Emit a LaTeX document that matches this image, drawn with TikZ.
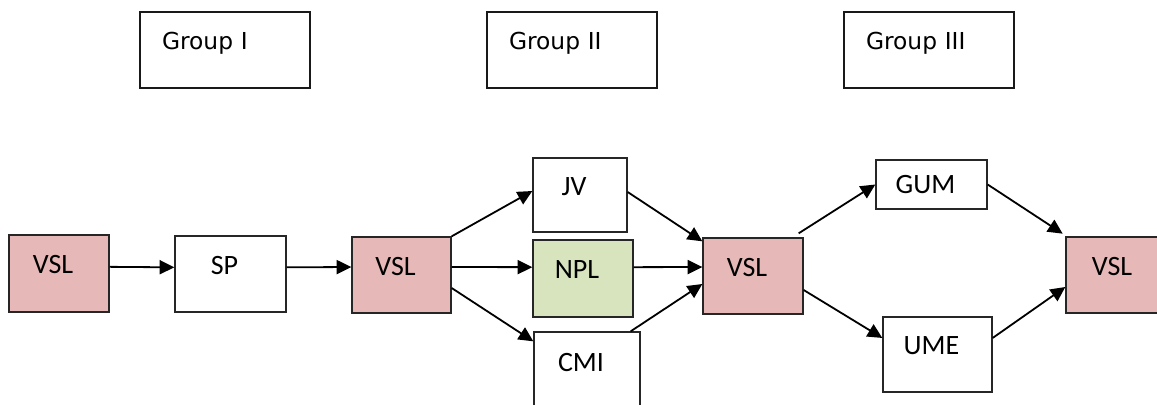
\documentclass[tikz,border=0pt]{standalone}
\usepackage{fontspec}
\setmainfont{Carlito}
\newfontfamily\grpfont{DejaVu Sans}
\usetikzlibrary{arrows.meta}
\definecolor{vslpink}{HTML}{E6B9B8}
\definecolor{nplgreen}{HTML}{D7E4BD}

\begin{document}
\begin{tikzpicture}[x=0.75pt,y=-0.75pt,
    box/.style={draw=black!85,line width=1pt,rectangle,inner sep=0pt,
      text height=13.5pt,text depth=13.5pt,font=\fontsize{21}{25}\selectfont,
      execute at end node={\hspace*{9pt}}},
    vslbox/.style={box,fill=vslpink},
    grpbox/.style={draw=black!90,line width=1pt,rectangle,inner xsep=16.5pt,inner ysep=0pt,
      minimum height=57pt,text width=94.5pt,align=left,
      text height=12.75pt,text depth=14.25pt,font=\grpfont\fontsize{17.5}{21}\selectfont},
    arr/.style={-{Triangle[length=11pt,width=10.5pt]},line width=1.35pt}]
  \clip (0,0) rectangle (1157,404);
  % group headers
  \node[grpbox] (g1) at (225,50) {Group I};
  \node[grpbox] (g2) at (572,50) {Group II};
  \node[grpbox] (g3) at (929,50) {Group III};
  % chain of laboratories
  \node[vslbox,minimum width=75pt,minimum height=57.75pt] (vsla) at (59,273.5) {VSL};
  \node[box,minimum width=83.25pt,minimum height=57pt] (sp) at (230.5,274) {SP};
  \node[vslbox,minimum width=74.25pt,minimum height=57pt] (vslb) at (401.5,275) {VSL};
  \node[box,minimum width=70.5pt,minimum height=55.5pt] (jv) at (580,195) {JV};
  \node[box,fill=nplgreen,minimum width=75pt,minimum height=57.75pt] (npl) at (583,278.5) {NPL};
  \node[box,minimum width=79.5pt,minimum height=58.5pt] (cmi) at (587,371) {CMI};
  \node[vslbox,minimum width=75pt,minimum height=57pt] (vslc) at (753,276) {VSL};
  \node[box,text depth=0pt,minimum width=83.25pt,minimum height=36.75pt] (gum) at (931.5,184.5) {GUM};
  \node[box,minimum width=81.75pt,minimum height=56.25pt] (ume) at (937.5,354.5) {UME};
  \node[vslbox,minimum width=78pt,minimum height=57pt] (vsld) at (1118,275) {VSL};

  \draw[arr] ([yshift=5pt]vsla.east) -- ([yshift=5pt]sp.west);
  \draw[arr] ([yshift=5pt]sp.east) -- ([yshift=6pt]vslb.west);

  \draw[arr] (vslb.north east) -- ([yshift=3pt]jv.west);
  \draw[arr] ([yshift=6pt]vslb.east) -- ([yshift=8.5pt]npl.west);
  \draw[arr] ([yshift=-9.75pt]vslb.east) -- ([yshift=-7.5pt]cmi.north west);

  \draw[arr] ([yshift=2.25pt]jv.east) -- ([yshift=-3pt]vslc.north west);
  \draw[arr] ([yshift=8.5pt]npl.east) -- ([yshift=6.75pt]vslc.west);
  \draw[arr] ([xshift=-7.5pt]cmi.north east) -- ([yshift=-6pt]vslc.west);

  \draw[arr] ([xshift=-3.75pt,yshift=3pt]vslc.north east) -- (gum.west);
  \draw[arr] ([yshift=-10.5pt]vslc.east) -- ([yshift=12.4pt]ume.west);

  \draw[arr] (gum.east) -- ([xshift=-2pt,yshift=2pt]vsld.north west);
  \draw[arr] ([yshift=12.4pt]ume.east) -- ([yshift=-9pt]vsld.west);
\end{tikzpicture}
\end{document}
